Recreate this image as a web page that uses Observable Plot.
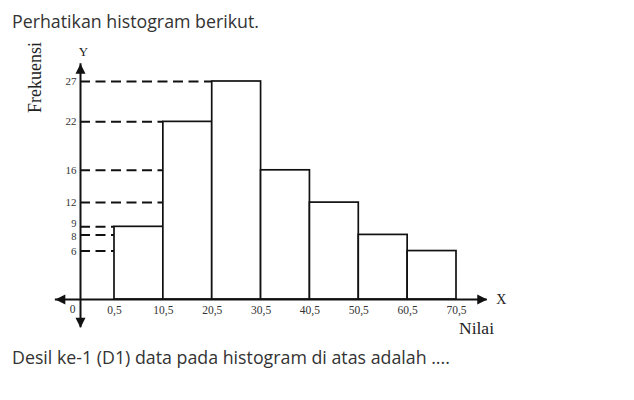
<!DOCTYPE html>
<html>
<head>
<meta charset="utf-8">
<script src="https://cdn.jsdelivr.net/npm/d3@7"></script>
<script src="https://cdn.jsdelivr.net/npm/@observablehq/plot@0.6"></script>
<style>
  html, body { margin: 0; padding: 0; background: #fff; }
  body { width: 634px; height: 400px; position: relative; overflow: hidden; }
  .txt { position: absolute; left: 12px; font-family: "Open Sans", sans-serif; font-size: 17.8px; color: #333; white-space: nowrap; line-height: 20px; }
  #title { top: 11px; }
  #caption { top: 347px; }
  #chart { position: absolute; left: 0; top: 32px; }
</style>
</head>
<body>
<div id="title" class="txt">Perhatikan histogram berikut.</div>
<div id="chart"></div>
<div id="caption" class="txt">Desil ke-1 (D1) data pada histogram di atas adalah ....</div>
<script>
// class boundaries (lower, upper) and frequencies
const lowerBounds = [0.5, 10.5, 20.5, 30.5, 40.5, 50.5, 60.5];
const upperBounds = [10.5, 20.5, 30.5, 40.5, 50.5, 60.5, 70.5];
const frequencies = [9, 22, 27, 16, 12, 8, 6];

// dashed guide lines: frequency level and the boundary where each stops
const guideLevels = [27, 22, 16, 12, 9, 8, 6];
const guideEnds = [20.5, 10.5, 10.5, 10.5, 0.5, 0.5, 0.5];

// tick labels
const xTickValues = [0.5, 10.5, 20.5, 30.5, 40.5, 50.5, 60.5, 70.5];
const xTickLabels = ["0,5", "10,5", "20,5", "30,5", "40,5", "50,5", "60,5", "70,5"];
const yTickValues = [27, 22, 16, 12, 6];
const yTickCrowded = [9, 8];

// axis extents (arrow tips)
const xAxisExtent = [-0.37, 76.8];
const yAxisExtent = [-3.5, 29.2];

const bars = lowerBounds.map((lo, i) => ({lo, hi: upperBounds[i], f: frequencies[i]}));
const guides = guideLevels.map((v, i) => ({v, end: guideEnds[i]}));
const xTicks = xTickValues.map((v, i) => ({v, label: xTickLabels[i]}));

const ink = "#111";
const serif = "'Liberation Serif', 'Times New Roman', serif";

const arrow = (dir) => ({
  draw(ctx) {
    const L = 10, W = 5;
    ctx.moveTo(0, 0);
    if (dir === "up") { ctx.lineTo(-W, L); ctx.lineTo(W, L); }
    if (dir === "down") { ctx.lineTo(-W, -L); ctx.lineTo(W, -L); }
    if (dir === "right") { ctx.lineTo(-L, -W); ctx.lineTo(-L, W); }
    if (dir === "left") { ctx.lineTo(L, -W); ctx.lineTo(L, W); }
    ctx.closePath();
  }
});

const chart = Plot.plot({
  width: 634,
  height: 310,
  marginLeft: 80,
  marginRight: 178,
  marginTop: 49,
  marginBottom: 43,
  style: {fontFamily: serif, fontSize: "11px", color: "#333", background: "white", overflow: "visible"},
  x: {type: "linear", domain: [0, 0.5, 70.5], range: [80, 114, 456], axis: null},
  y: {domain: [0, 27], axis: null},
  marks: [
    Plot.ruleY(guides, {y: "v", x1: () => 0, x2: "end", stroke: ink, strokeWidth: 2, strokeDasharray: "10,5.5"}),
    Plot.rectY(bars, {x1: "lo", x2: "hi", y: "f", fill: "white", stroke: ink, strokeWidth: 1.7, inset: 0}),
    // axes
    Plot.ruleY([0], {x1: () => xAxisExtent[0], x2: () => xAxisExtent[1], stroke: ink, strokeWidth: 2}),
    Plot.ruleX([0], {y1: () => yAxisExtent[0], y2: () => yAxisExtent[1], stroke: ink, strokeWidth: 2}),
    Plot.dot([0], {x: () => 0, y: () => yAxisExtent[1], symbol: arrow("up"), fill: ink, r: 5}),
    Plot.dot([0], {x: () => 0, y: () => yAxisExtent[0], symbol: arrow("down"), fill: ink, r: 5}),
    Plot.dot([0], {x: () => xAxisExtent[1], y: () => 0, symbol: arrow("right"), fill: ink, r: 5}),
    Plot.dot([0], {x: () => xAxisExtent[0], y: () => 0, symbol: arrow("left"), fill: ink, r: 5}),
    // tick labels
    Plot.text(yTickValues, {x: () => 0, y: d => d, text: d => String(d), textAnchor: "end", dx: -4, fontSize: 11, fill: "#333"}),
    Plot.text([yTickCrowded[0]], {x: () => 0, y: d => d, text: d => String(d), textAnchor: "end", dx: -4, dy: -3, fontSize: 10.5, fill: "#333"}),
    Plot.text([yTickCrowded[1]], {x: () => 0, y: d => d, text: d => String(d), textAnchor: "end", dx: -4, dy: 2, fontSize: 10.5, fill: "#333"}),
    Plot.text(xTicks, {x: "v", y: () => 0, text: "label", dy: 11, fontSize: 11.5, fill: "#333"}),
    Plot.text(["0"], {x: () => 0, y: () => 0, text: d => d, dx: -8, dy: 10, fontSize: 11.5, fill: "#333"}),
    // axis labels
    Plot.text(["Y"], {x: () => 0, y: () => yAxisExtent[1], text: d => d, dx: 3, dy: -12, fontSize: 13, fill: "#222"}),
    Plot.text(["X"], {x: () => xAxisExtent[1], y: () => 0, text: d => d, dx: 14, fontSize: 14, fill: "#222"}),
    Plot.text(["Nilai"], {x: () => 70.5, y: () => 0, text: d => d, dx: 20, dy: 29, fontSize: 17.5, fill: "#222"}),
    Plot.text(["Frekuensi"], {x: () => 0, y: () => 27.5, text: d => d, dx: -45, rotate: -90, fontSize: 18, fill: "#222"})
  ]
});
document.getElementById("chart").appendChild(chart);
</script>
</body>
</html>
